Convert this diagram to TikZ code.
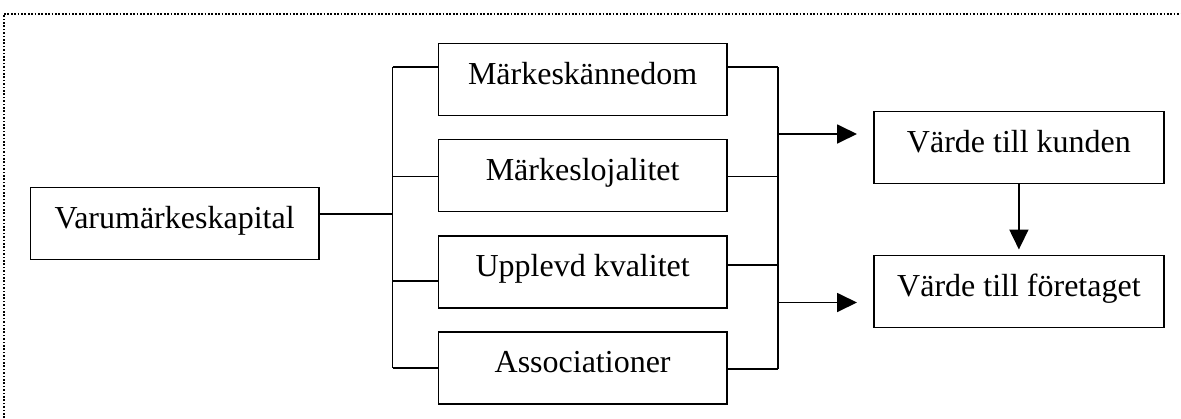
\documentclass[tikz,border=0pt]{standalone}
\usepackage{fontspec}
\setmainfont{Liberation Serif}
\usetikzlibrary{arrows.meta}
\begin{document}
\begin{tikzpicture}[x=1pt,y=-1pt,
  box/.style={draw,line width=1.8pt,minimum height=72pt,inner sep=0pt,
    text height=25pt,text depth=15pt,anchor=north west,
    font=\fontsize{32pt}{38pt}\selectfont},
  conn/.style={line width=1.8pt},
  arr/.style={line width=1.8pt,-{Triangle[length=20pt,width=19pt]}},
  frame/.style={line width=2pt,dash pattern=on 1.7pt off 1.7pt}]
\useasboundingbox (0,0) rectangle (1181,418);
\draw[frame] (3.5,418) -- (3.5,14) -- (1181,14);
\node[box,minimum width=288.5pt] (v) at (29.5,186.5) {Varumärkeskapital};
\node[box,minimum width=288.5pt] (m1) at (437.5,42.5) {Märkeskännedom};
\node[box,minimum width=288.5pt] (m2) at (437.5,138.5) {Märkeslojalitet};
\node[box,minimum width=288.5pt] (m3) at (437.5,235) {Upplevd kvalitet};
\node[box,minimum width=288.5pt] (m4) at (437.5,331) {Associationer};
\node[box,minimum width=290pt] (k) at (873,110.5) {Värde till kunden};
\node[box,minimum width=290pt] (f) at (873,254.5) {Värde till företaget};
\coordinate (jl) at (392.5,214);
\coordinate (l1) at (392.5,67);
\coordinate (l2) at (392.5,176.5);
\coordinate (l3) at (392.5,281);
\coordinate (l4) at (392.5,368);
\coordinate (r1) at (778,67);
\coordinate (r2) at (778,176.5);
\coordinate (r3) at (778,265);
\coordinate (r4) at (778,369);
\coordinate (a1) at (778,134);
\coordinate (a2) at (778,302.5);
\draw[conn] (v.east |- jl) -- (jl);
\draw[conn] (l1) -- (l4);
\draw[conn] (l1) -- (l1 -| m1.west);
\draw[conn] (l2) -- (l2 -| m2.west);
\draw[conn] (l3) -- (l3 -| m3.west);
\draw[conn] (l4) -- (l4 -| m4.west);
\draw[conn] (m1.east |- r1) -- (r1);
\draw[conn] (m2.east |- r2) -- (r2);
\draw[conn] (m3.east |- r3) -- (r3);
\draw[conn] (m4.east |- r4) -- (r4);
\draw[conn] (r1) -- (r4);
\draw[arr,shorten >=16pt] (a1) -- (a1 -| k.west);
\draw[arr,shorten >=16pt] (a2) -- (a2 -| f.west);
\draw[arr,shorten >=5pt] (k.south) -- (f.north);
\end{tikzpicture}
\end{document}
